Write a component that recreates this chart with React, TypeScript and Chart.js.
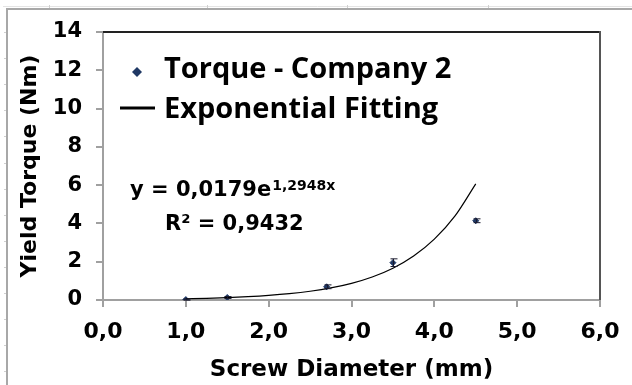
import React, { useEffect, useRef } from "react";
import { Chart, registerables } from "chart.js";

Chart.register(...registerables);

// Measured data (Company 2)
const diameters = [1.0, 1.5, 2.7, 3.5, 4.5];
const torques = [0.02, 0.13, 0.69, 1.95, 4.14];
const torqueErrors = [0.03, 0.05, 0.1, 0.2, 0.1];

// Exponential fitting curve
const fitX = [1.0, 1.25, 1.5, 1.75, 2.0, 2.25, 2.5, 2.75, 3.0, 3.25, 3.5, 3.75, 4.0, 4.25, 4.5];
const fitY = [0.065, 0.09, 0.125, 0.173, 0.239, 0.33, 0.456, 0.63, 0.871, 1.203, 1.663, 2.299, 3.178, 4.393, 6.07];

const xTicks = [0, 1, 2, 3, 4, 5, 6];
const yTicks = [0, 2, 4, 6, 8, 10, 12, 14];

const legendLabels = ["Torque - Company 2", "Exponential Fitting"];
const equationMain = "y = 0,0179e";
const equationExp = "1,2948x";
const rSquared = "R² = 0,9432";
const xTitle = "Screw Diameter (mm)";
const yTitle = "Yield Torque (Nm)";

const NAVY = "#1f3864";
const BOLD = "bold 21px 'DejaVu Sans'";

const decorPlugin = {
  id: "decor",
  beforeDraw(chart: any) {
    const ctx = chart.ctx;
    ctx.save();
    ctx.fillStyle = "#ffffff";
    ctx.fillRect(0, 0, chart.width, chart.height);
    // sheet frame
    ctx.strokeStyle = "#e4e4e4";
    ctx.lineWidth = 1;
    ctx.beginPath();
    ctx.moveTo(3, 6.5);
    ctx.lineTo(632, 6.5);
    ctx.stroke();
    ctx.strokeStyle = "#d0d0d0";
    [49, 207, 347, 488].forEach((x) => {
      ctx.beginPath();
      ctx.moveTo(x + 0.5, 5);
      ctx.lineTo(x + 0.5, 8);
      ctx.stroke();
    });
    for (let y = 32; y < 385; y += 26.1) {
      ctx.beginPath();
      ctx.moveTo(4, Math.round(y) + 0.5);
      ctx.lineTo(7, Math.round(y) + 0.5);
      ctx.stroke();
    }
    ctx.strokeStyle = "#a8a8a8";
    ctx.lineWidth = 2;
    ctx.beginPath();
    ctx.moveTo(7, 385);
    ctx.lineTo(7, 9);
    ctx.lineTo(632, 9);
    ctx.stroke();
    ctx.restore();
  },
  afterDatasetsDraw(chart: any) {
    const ctx = chart.ctx;
    const xs = chart.scales.x;
    const ys = chart.scales.y;
    const area = chart.chartArea;
    ctx.save();
    // error bars
    ctx.strokeStyle = "#1a1a2e";
    ctx.lineWidth = 1;
    diameters.forEach((d, i) => {
      const px = Math.round(xs.getPixelForValue(d)) + 0.5;
      const top = ys.getPixelForValue(torques[i] + torqueErrors[i]);
      const bot = ys.getPixelForValue(torques[i] - torqueErrors[i]);
      ctx.beginPath();
      ctx.moveTo(px, top);
      ctx.lineTo(px, bot);
      ctx.moveTo(px - 3, top);
      ctx.lineTo(px + 4, top);
      ctx.moveTo(px - 3, bot);
      ctx.lineTo(px + 4, bot);
      ctx.stroke();
    });
    // plot border top / right
    ctx.lineWidth = 2;
    ctx.strokeStyle = "#222222";
    ctx.beginPath();
    ctx.moveTo(area.left, area.top);
    ctx.lineTo(area.right, area.top);
    ctx.stroke();
    ctx.strokeStyle = "#555555";
    ctx.beginPath();
    ctx.moveTo(area.right, area.top - 1);
    ctx.lineTo(area.right, area.bottom);
    ctx.stroke();

    // legend
    ctx.fillStyle = NAVY;
    const lx = 137;
    const ly = 72;
    ctx.beginPath();
    ctx.moveTo(lx, ly - 5);
    ctx.lineTo(lx + 5, ly);
    ctx.lineTo(lx, ly + 5);
    ctx.lineTo(lx - 5, ly);
    ctx.closePath();
    ctx.fill();
    ctx.strokeStyle = "#000000";
    ctx.lineWidth = 3;
    ctx.beginPath();
    ctx.moveTo(120, 108);
    ctx.lineTo(155, 108);
    ctx.stroke();
    ctx.fillStyle = "#000000";
    ctx.font = "700 29px 'Open Sans'";
    ctx.textBaseline = "alphabetic";
    ctx.textAlign = "left";
    ctx.fillText(legendLabels[0], 164, 78);
    ctx.fillText(legendLabels[1], 164, 118);

    // equation
    ctx.font = BOLD;
    ctx.fillText(equationMain, 130, 196);
    const w = ctx.measureText(equationMain).width;
    ctx.font = "bold 14px 'DejaVu Sans'";
    ctx.fillText(equationExp, 130 + w + 1, 190);
    ctx.font = BOLD;
    ctx.fillText(rSquared, 165, 230);
    ctx.restore();
  },
};

export default function App() {
  const ref = useRef<HTMLCanvasElement | null>(null);
  useEffect(() => {
    if (!ref.current) return;
    const chart = new Chart(ref.current, {
      type: "scatter",
      data: {
        datasets: [
          {
            type: "line",
            label: legendLabels[1],
            data: fitX.map((x, i) => ({ x, y: fitY[i] })),
            borderColor: "#000000",
            borderWidth: 1.2,
            pointRadius: 0,
            tension: 0.4,
            cubicInterpolationMode: "monotone",
            fill: false,
          } as any,
          {
            type: "scatter",
            label: legendLabels[0],
            data: diameters.map((x, i) => ({ x, y: torques[i] })),
            backgroundColor: NAVY,
            borderColor: NAVY,
            pointStyle: "rectRot",
            pointRadius: 3,
            borderWidth: 1,
          },
        ],
      },
      options: {
        animation: false,
        responsive: false,
        layout: { padding: { top: 32, right: 32, left: 0, bottom: 0 } },
        plugins: {
          legend: { display: false },
          tooltip: { enabled: false },
        },
        scales: {
          x: {
            type: "linear",
            min: 0,
            max: 6,
            afterBuildTicks: (s: any) => {
              s.ticks = xTicks.map((v) => ({ value: v }));
            },
            afterFit: (s: any) => {
              s.height = 85;
            },
            ticks: {
              color: "#000000",
              font: { family: "'DejaVu Sans'", weight: "bold", size: 22 },
              padding: 12,
              callback: (v: any) => Number(v).toFixed(1).replace(".", ","),
            },
            grid: { drawOnChartArea: false, drawTicks: true, tickLength: 7, color: "#a0a0a0", lineWidth: 2 },
            border: { color: "#a0a0a0", width: 2 },
            title: {
              display: true,
              text: xTitle,
              color: "#000000",
              font: { family: "'DejaVu Sans'", weight: "bold", size: 23 },
              padding: { top: 0, bottom: 1 },
            },
          },
          y: {
            type: "linear",
            min: 0,
            max: 14,
            afterBuildTicks: (s: any) => {
              s.ticks = yTicks.map((v) => ({ value: v }));
            },
            afterFit: (s: any) => {
              s.width = 103;
            },
            ticks: {
              color: "#000000",
              font: { family: "'DejaVu Sans'", weight: "bold", size: 21 },
              padding: 14,
            },
            grid: { drawOnChartArea: false, drawTicks: true, tickLength: 7, color: "#a0a0a0", lineWidth: 2 },
            border: { color: "#a0a0a0", width: 2 },
            title: {
              display: true,
              text: yTitle,
              color: "#000000",
              font: { family: "'DejaVu Sans'", weight: "bold", size: 22 },
              padding: { top: 17, bottom: 0 },
            },
          },
        },
      },
      plugins: [decorPlugin],
    });
    return () => chart.destroy();
  }, []);
  return (
    <div style={{ position: "fixed", left: 0, top: 0, width: 632, height: 385 }}>
      <canvas ref={ref} width={632} height={385} style={{ width: 632, height: 385 }} />
    </div>
  );
}
